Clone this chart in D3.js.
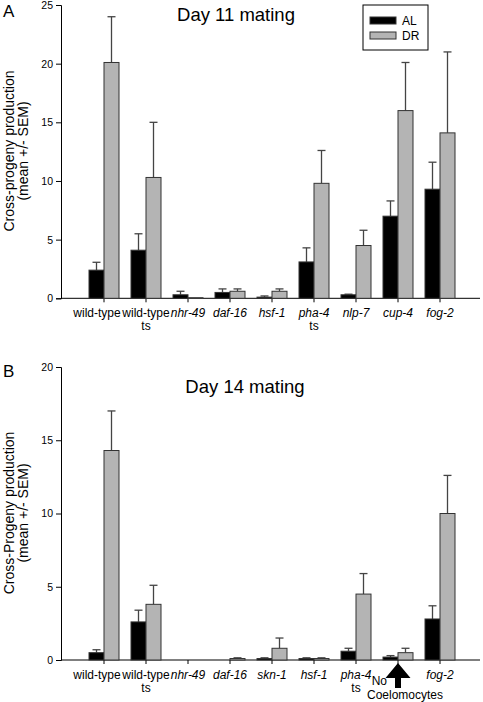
<!DOCTYPE html>
<html><head><meta charset="utf-8">
<script src="https://cdn.jsdelivr.net/npm/d3@7"></script>
<style>
body{margin:0;background:#fff;}
text{font-family:"Liberation Sans",Arial,sans-serif;fill:#000;}
</style></head>
<body>
<svg id="c" width="483" height="702"></svg>
<script>
// Panel A: Day 11 mating
const catsA = ["wild-type","wild-type ts","nhr-49","daf-16","hsf-1","pha-4 ts","nlp-7","cup-4","fog-2"];
const labA1 = ["wild-type","wild-type","nhr-49","daf-16","hsf-1","pha-4","nlp-7","cup-4","fog-2"];
const labA2 = ["","ts","","","","ts","","",""];
const italA = [false,false,true,true,true,true,true,true,true];
const alA = [2.4, 4.1, 0.3, 0.5, 0.1, 3.1, 0.3, 7.0, 9.3];
const alErrA = [3.07, 5.5, 0.6, 0.8, 0.2, 4.3, 0.35, 8.3, 11.6];
const drA = [20.1, 10.3, 0.05, 0.6, 0.6, 9.8, 4.5, 16.0, 14.1];
const drErrA = [24.0, 15.0, 0.05, 0.8, 0.8, 12.6, 5.8, 20.1, 21.0];
const ticksA = [0,5,10,15,20,25];

// Panel B: Day 14 mating
const catsB = ["wild-type","wild-type ts","nhr-49","daf-16","skn-1","hsf-1","pha-4 ts","No Coelomocytes","fog-2"];
const labB1 = ["wild-type","wild-type","nhr-49","daf-16","skn-1","hsf-1","pha-4","","fog-2"];
const labB2 = ["","ts","","","","","ts","",""];
const italB = [false,false,true,true,true,true,true,false,true];
const alB = [0.5, 2.6, 0, 0, 0.1, 0.1, 0.6, 0.2, 2.8];
const alErrB = [0.7, 3.4, 0, 0, 0.15, 0.15, 0.8, 0.3, 3.7];
const drB = [14.3, 3.8, 0, 0.1, 0.8, 0.1, 4.5, 0.5, 10.0];
const drErrB = [17.0, 5.1, 0, 0.15, 1.5, 0.15, 5.9, 0.8, 12.6];
const ticksB = [0,5,10,15,20];

const seriesNames = ["AL","DR"];
const colors = {AL:"#000000", DR:"#b4b4b4"};

const svg = d3.select("#c");
const axisX0 = 61, axisX1 = 480;

function panel(o){
  const g = svg.append("g");
  const x = d3.scaleBand().domain(o.cats).range([83,461]).padding(0);
  const y = d3.scaleLinear().domain([0,o.max]).range([o.y0,o.y1]);
  const bw = 15;
  // y axis
  const ya = g.append("g").attr("transform",`translate(${axisX0},0)`)
    .call(d3.axisLeft(y).tickValues(o.ticks).tickSize(5).tickPadding(3));
  ya.selectAll("text").style("font-size","10.5px").style("font-family","Liberation Sans, Arial, sans-serif");
  ya.selectAll("path,line").attr("stroke","#000");
  // x axis baseline and ticks
  g.append("line").attr("x1",axisX0).attr("x2",axisX1).attr("y1",y(0)).attr("y2",y(0)).attr("stroke","#000");
  const xa = g.append("g").attr("transform",`translate(0,${y(0)})`)
    .call(d3.axisBottom(x).tickSize(4).tickFormat(""));
  xa.select(".domain").remove();
  xa.selectAll("line").attr("stroke","#000");
  // bars
  const data = [];
  o.cats.forEach((c,i)=>{
    data.push({c, s:"AL", v:o.al[i], e:o.alErr[i], off:-bw});
    data.push({c, s:"DR", v:o.dr[i], e:o.drErr[i], off:0});
  });
  const cx = d => x(d.c) + x.bandwidth()/2 + d.off;
  data.filter(d=>d.e>d.v).forEach(d=>{
    const m = cx(d)+bw/2;
    g.append("line").attr("x1",m).attr("x2",m).attr("y1",y(d.v)).attr("y2",y(d.e)).attr("stroke","#444").attr("stroke-width",1.3);
    g.append("line").attr("x1",m-4).attr("x2",m+4).attr("y1",y(d.e)).attr("y2",y(d.e)).attr("stroke","#444").attr("stroke-width",1.3);
  });
  g.selectAll("rect.bar").data(data.filter(d=>d.v>0)).join("rect")
    .attr("x",d=>cx(d)).attr("width",bw)
    .attr("y",d=>y(d.v)).attr("height",d=>y(0)-y(d.v))
    .attr("fill",d=>colors[d.s]).attr("stroke","#333").attr("stroke-width",1);
  // category labels
  o.cats.forEach((c,i)=>{
    let xc = x(c)+x.bandwidth()/2 + (i===0?-7:0);
    if(o.l1[i]) g.append("text").attr("x",xc).attr("y",y(0)+19).attr("text-anchor","middle")
      .style("font-size","12px").style("font-style",o.it[i]?"italic":"normal").text(o.l1[i]);
    if(o.l2[i]) g.append("text").attr("x",xc).attr("y",y(0)+32).attr("text-anchor","middle")
      .style("font-size","12px").text(o.l2[i]);
  });
  // y label
  const yl = g.append("text").attr("transform",`translate(${o.ylx},${o.yly}) rotate(-90)`).attr("text-anchor","middle").style("font-size","14px");
  yl.append("tspan").attr("x",0).attr("dy",0).text(o.ylab);
  yl.append("tspan").attr("x",0).attr("dy",14).text("(mean +/- SEM)");
  // title
  g.append("text").attr("x",o.tx).attr("y",o.ty).attr("text-anchor","middle").style("font-size","18.5px").text(o.title);
  // panel letter
  g.append("text").attr("x",3).attr("y",o.ly).style("font-size","17px").text(o.letter);
  return {x,y,g};
}

panel({cats:catsA,l1:labA1,l2:labA2,it:italA,al:alA,alErr:alErrA,dr:drA,drErr:drErrA,ticks:ticksA,max:25,
  y0:298.3,y1:5,ylab:"Cross-progeny production",ylx:14,yly:151,title:"Day 11 mating",tx:236,ty:21,letter:"A",ly:17});
const pB = panel({cats:catsB,l1:labB1,l2:labB2,it:italB,al:alB,alErr:alErrB,dr:drB,drErr:drErrB,ticks:ticksB,max:20,
  y0:660,y1:367,ylab:"Cross-Progeny production",ylx:14,yly:513,title:"Day 14 mating",tx:245,ty:393,letter:"B",ly:377});

// No Coelomocytes arrow annotation
const nc = pB.x("No Coelomocytes") + pB.x.bandwidth()/2;
const y0B = pB.y(0);
pB.g.append("path")
  .attr("d",`M${nc},${y0B+3} L${nc+12.5},${y0B+18} L${nc+3},${y0B+18} L${nc+3},${y0B+28} L${nc-3},${y0B+28} L${nc-3},${y0B+18} L${nc-12.5},${y0B+18} Z`)
  .attr("fill","#000");
pB.g.append("text").attr("x",nc-11).attr("y",y0B+25).attr("text-anchor","end").style("font-size","12px").text("No");
pB.g.append("text").attr("x",nc+7).attr("y",y0B+39).attr("text-anchor","middle").style("font-size","12px").text("Coelomocytes");

// legend
const lg = svg.append("g");
lg.append("rect").attr("x",363).attr("y",5).attr("width",65).attr("height",45).attr("fill","#fff").attr("stroke","#000");
seriesNames.forEach((s,i)=>{
  lg.append("rect").attr("x",370).attr("y",17+i*15).attr("width",26).attr("height",7).attr("fill",colors[s]).attr("stroke","#333");
  lg.append("text").attr("x",402).attr("y",25+i*15).style("font-size","12px").text(s);
});
</script>
</body></html>
